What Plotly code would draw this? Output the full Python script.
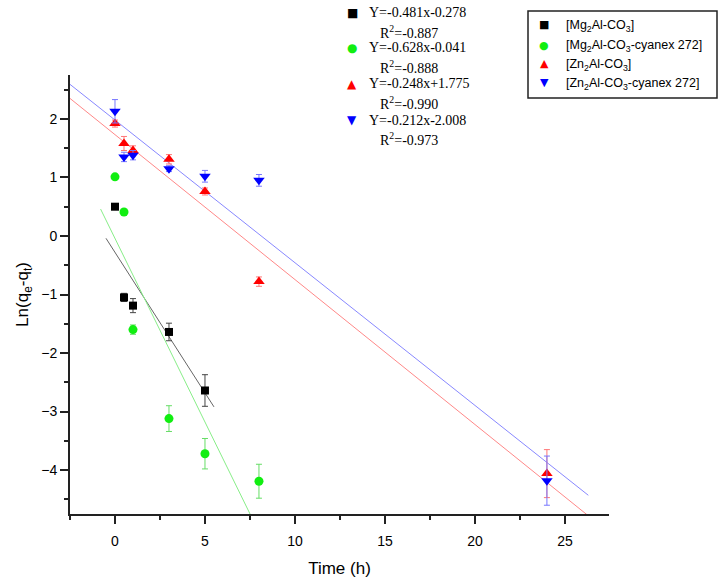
import plotly.graph_objects as go

# measured points, Ln(qe-qt) vs time (h)
time_mg = [0, 0.5, 1, 3, 5]
ln_mg = [0.50, -1.05, -1.19, -1.64, -2.64]
err_mg = [0.03, 0.07, 0.12, 0.15, 0.27]

time_mgc = [0, 0.5, 1, 3, 5, 8]
ln_mgc = [1.01, 0.41, -1.60, -3.12, -3.72, -4.19]
err_mgc = [0.03, 0.03, 0.08, 0.22, 0.26, 0.29]

time_zn = [0, 0.5, 1, 3, 5, 8, 24]
ln_zn = [1.92, 1.58, 1.46, 1.31, 0.76, -0.78, -4.06]
err_zn = [0.06, 0.12, 0.08, 0.08, 0.06, 0.08, 0.41]

time_znc = [0, 0.5, 1, 3, 5, 8, 24]
ln_znc = [2.13, 1.35, 1.38, 1.15, 1.02, 0.95, -4.18]
err_znc = [0.20, 0.08, 0.08, 0.05, 0.10, 0.10, 0.42]

# fitted line end points as drawn
fit_mg_x = [-0.5, 5.5]
fit_mg_y = [-0.04, -2.92]
fit_mgc_x = [-0.8, 7.6]
fit_mgc_y = [0.46, -4.81]
fit_zn_x = [-2.5, 26.3]
fit_zn_y = [2.35, -4.78]
fit_znc_x = [-2.5, 26.3]
fit_znc_y = [2.59, -4.43]

names = ["[Mg<sub>2</sub>Al-CO<sub>3</sub>]",
         "[Mg<sub>2</sub>Al-CO<sub>3</sub>-cyanex 272]",
         "[Zn<sub>2</sub>Al-CO<sub>3</sub>]",
         "[Zn<sub>2</sub>Al-CO<sub>3</sub>-cyanex 272]"]
equations = ["Y=-0.481x-0.278", "Y=-0.628x-0.041", "Y=-0.248x+1.775", "Y=-0.212x-2.008"]
r2_values = ["R<sup>2</sup>=-0.887", "R<sup>2</sup>=-0.888", "R<sup>2</sup>=-0.990", "R<sup>2</sup>=-0.973"]

series = [
  (time_mg, ln_mg, err_mg, fit_mg_x, fit_mg_y, "#000000", "#444444", "#666666", "square", 8),
  (time_mgc, ln_mgc, err_mgc, fit_mgc_x, fit_mgc_y, "#11ee11", "#66dd66", "#88ee88", "circle", 9),
  (time_zn, ln_zn, err_zn, fit_zn_x, fit_zn_y, "#ff0000", "#ff7777", "#ff8888", "triangle-up", 10),
  (time_znc, ln_znc, err_znc, fit_znc_x, fit_znc_y, "#0000ff", "#7777ff", "#8888ff", "triangle-down", 10),
]

fig = go.Figure()

for name, (tx, ty, te, fx, fy, col, ecol, lcol, sym, sz) in zip(names, series):
  fig.add_trace(go.Scatter(
    x=fx, y=fy, mode="lines",
    line=dict(color=lcol, width=1),
    showlegend=False, hoverinfo="skip"
  ))
for name, (tx, ty, te, fx, fy, col, ecol, lcol, sym, sz) in zip(names, series):
  fig.add_trace(go.Scatter(
    x=tx, y=ty, mode="markers", name=name,
    marker=dict(color=col, symbol=sym, size=sz),
    error_y=dict(type="data", array=te, color=ecol, thickness=1, width=3),
    showlegend=False
  ))

# plot area in pixels: x 70..609, y 75..514
L, R, T, B = 70, 609, 75, 514
def px(x):
  return (x - L) / (R - L)
def py(y):
  return (B - y) / (B - T)

symbols = ["■", "●", "▲", "▼"]
sym_colors = ["#000000", "#11ee11", "#ff0000", "#0000ff"]

# equation block above the plot
row_y = [13, 48, 84, 120]
ann = []
for s, c, eq, r2, yy in zip(symbols, sym_colors, equations, r2_values, row_y):
  ann.append(dict(x=px(352), y=py(yy), xref="paper", yref="paper", text=s,
                  xanchor="center", yanchor="middle", showarrow=False,
                  font=dict(family="DejaVu Sans", size=12, color=c)))
  ann.append(dict(x=px(367), y=py(yy), xref="paper", yref="paper", text=eq,
                  xanchor="left", yanchor="middle", showarrow=False,
                  font=dict(family="Liberation Serif", size=14, color="black")))
  ann.append(dict(x=px(409), y=py(yy + 19), xref="paper", yref="paper", text=r2,
                  xanchor="center", yanchor="middle", showarrow=False,
                  font=dict(family="Liberation Serif", size=14, color="black")))

# boxed legend, top right
leg_rows = [25, 45, 64, 83]
for s, c, n, yy in zip(symbols, sym_colors, names, leg_rows):
  ann.append(dict(x=px(544), y=py(yy), xref="paper", yref="paper", text=s,
                  xanchor="center", yanchor="middle", showarrow=False,
                  font=dict(family="DejaVu Sans", size=11, color=c)))
  ann.append(dict(x=px(564), y=py(yy + 1), xref="paper", yref="paper", text=n,
                  xanchor="left", yanchor="middle", showarrow=False,
                  font=dict(size=12.5, color="black")))

fig.add_shape(type="rect", xref="paper", yref="paper",
              x0=px(528), x1=px(717), y0=py(11), y1=py(98),
              line=dict(color="#222", width=1.5), fillcolor="rgba(0,0,0,0)")

fig.update_layout(
  width=728, height=584,
  margin=dict(l=L, r=728 - R, t=T, b=584 - B, autoexpand=False),
  paper_bgcolor="white", plot_bgcolor="white",
  font=dict(family="Liberation Sans, Arial", size=14, color="black"),
  annotations=ann,
  showlegend=False,
)
fig.update_xaxes(
  range=[-2.5, 27.45], showgrid=False, zeroline=False,
  showline=True, linecolor="#222", linewidth=2,
  ticks="outside", ticklen=8, tickwidth=1.5, tickcolor="#222",
  dtick=5, tick0=0, ticklabelstandoff=5,
  minor=dict(ticks="outside", ticklen=4, tickwidth=1.5, tickcolor="#222", dtick=2.5, tick0=0),
  title=dict(text="Time (h)", standoff=14),
)
fig.update_yaxes(
  range=[-4.75, 2.75], showgrid=False, zeroline=False,
  showline=True, linecolor="#222", linewidth=2,
  ticks="outside", ticklen=8, tickwidth=1.5, tickcolor="#222",
  dtick=1, tick0=0,
  minor=dict(ticks="outside", ticklen=4, tickwidth=1.5, tickcolor="#222", dtick=0.5, tick0=0),
  title=dict(text="Ln(q<sub>e</sub>-q<sub>t</sub>)", standoff=8),
)

# drop the browser's default 8px body margin so the figure sits at the page corner
fig.write_html("out.html", config={"displayModeBar": False},
               post_script="document.body.style.margin='0';")
